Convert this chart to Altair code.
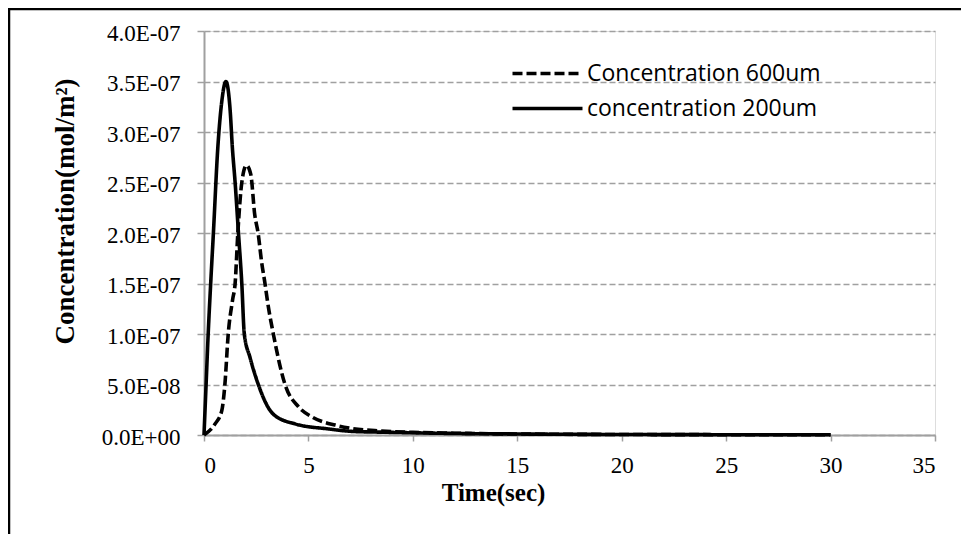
import altair as alt
import pandas as pd

# ---- data ----
series_names = ["Concentration 600um", "concentration 200um"]

t_200 = [0, 0.1, 0.2, 0.32, 0.45, 0.66, 0.85, 1.05, 1.25, 1.36, 1.49, 1.65, 1.81, 1.93,
         2.2, 2.6, 3.16, 3.35, 4.36, 5.96, 7.07, 8.5, 10, 12, 15, 20, 25, 30]
c_200 = [0, 50e-9, 100e-9, 150e-9, 200e-9, 284e-9, 330e-9, 350e-9, 322e-9, 284e-9, 250e-9,
         200e-9, 150e-9, 100e-9, 77e-9, 50e-9, 24.5e-9, 20e-9, 11e-9, 6e-9, 3.6e-9, 2.8e-9,
         2.2e-9, 1.5e-9, 1.0e-9, 0.5e-9, 0.3e-9, 0.2e-9]

t_600 = [0, 0.53, 0.85, 1.0, 1.16, 1.37, 1.49, 1.62, 1.81, 2.03, 2.24, 2.43, 2.59, 2.76,
         2.92, 3.05, 3.32, 3.88, 4.52, 5.16, 6.28, 7.07, 8.5, 10, 12, 15, 20, 25, 30]
c_600 = [0, 11e-9, 24e-9, 50e-9, 100e-9, 134e-9, 150e-9, 200e-9, 250e-9, 267e-9, 258e-9,
         218e-9, 200e-9, 171e-9, 150e-9, 131e-9, 100e-9, 50e-9, 28e-9, 18e-9, 9.8e-9, 6.5e-9,
         4e-9, 2.6e-9, 1.8e-9, 1.0e-9, 0.5e-9, 0.3e-9, 0.2e-9]

x_ticks = [0, 5, 10, 15, 20, 25, 30, 35]
y_ticks = [0, 5e-8, 1e-7, 1.5e-7, 2e-7, 2.5e-7, 3e-7, 3.5e-7, 4e-7]
y_tick_labels = ["0.0E+00", "5.0E-08", "1.0E-07", "1.5E-07", "2.0E-07",
                 "2.5E-07", "3.0E-07", "3.5E-07", "4.0E-07"]

rows = []
for t, c in zip(t_600, c_600):
    rows.append({"series": series_names[0], "time": t, "conc": c, "order": len(rows)})
for t, c in zip(t_200, c_200):
    rows.append({"series": series_names[1], "time": t, "conc": c, "order": len(rows)})
df = pd.DataFrame(rows)

W, H = 731, 404
label_expr = "[" + ",".join("'%s'" % s for s in y_tick_labels) + "][round(datum.value/5e-8)]"

serif = "Liberation Serif"

lines = alt.Chart(df).mark_line(
    color="black", strokeWidth=3.6, interpolate="monotone", strokeCap="butt"
).encode(
    x=alt.X("time:Q",
            scale=alt.Scale(domain=[0, 35], nice=False, zero=False),
            axis=alt.Axis(values=x_ticks, title="Time(sec)", grid=False,
                          labelFont=serif, labelFontSize=23, labelColor="black",
                          labelPadding=13, tickSize=6, tickColor="#A0A0A0", tickWidth=1.5,
                          domainColor="#A0A0A0", domainWidth=2,
                          titleFont=serif, titleFontSize=25, titleFontWeight="bold",
                          titleColor="black", titleX=289, titleY=57, titleAnchor="middle",
                          titleBaseline="middle", titleAlign="center")),
    y=alt.Y("conc:Q",
            scale=alt.Scale(domain=[0, 4e-7], nice=False),
            axis=alt.Axis(values=y_ticks, labelExpr=label_expr, title="Concentration(mol/m²)",
                          grid=True, gridColor="#A0A0A0", gridDash=[6, 3], gridWidth=1.3,
                          labelFont=serif, labelFontSize=23, labelColor="black",
                          labelPadding=17, labelOffset=2, tickSize=7, tickColor="#A0A0A0",
                          tickWidth=1.5, domainColor="#A0A0A0", domainWidth=2,
                          titleFont=serif, titleFontSize=27, titleFontWeight="bold",
                          titleColor="black", titleX=-139, titleY=180, titleAngle=270,
                          titleAnchor="middle", titleBaseline="middle", titleAlign="center")),
    strokeDash=alt.StrokeDash("series:N",
                              scale=alt.Scale(domain=series_names, range=[[10, 4], [1, 0]]),
                              legend=alt.Legend(title=None, orient="none", legendX=304, legendY=31,
                                                symbolType="M-1,0H9", symbolSize=196,
                                                symbolStrokeWidth=3.6, symbolStrokeColor="black",
                                                symbolFillColor="transparent",
                                                labelFont="Open Sans", labelFontSize=23,
                                                labelColor="black", labelOffset=56, labelLimit=0,
                                                rowPadding=11, padding=0)),
    detail="series:N",
    order="order:Q",
)

frame_df = pd.DataFrame({"k": [0]})
top_line = alt.Chart(frame_df).mark_rule(color="black", strokeWidth=2.5).encode(
    x=alt.value(-196), x2=alt.value(760), y=alt.value(-22))
left_line = alt.Chart(frame_df).mark_rule(color="black", strokeWidth=2.5).encode(
    x=alt.value(-195), y=alt.value(-23), y2=alt.value(510))

chart = alt.layer(lines, top_line, left_line).properties(
    width=W, height=H,
    autosize=alt.AutoSizeParams(type="none"),
    padding={"left": 196, "top": 23, "right": 26, "bottom": 99},
).configure_view(stroke=None).configure(background="white")

chart.save("out.html", embed_options={"renderer": "svg", "actions": False})
